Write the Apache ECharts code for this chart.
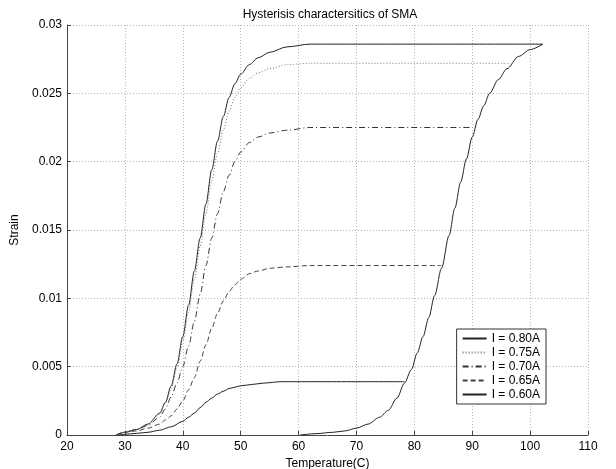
<!DOCTYPE html>
<html>
<head>
<meta charset="utf-8">
<script src="https://cdn.jsdelivr.net/npm/echarts@6/dist/echarts.min.js"></script>
<style>
  html, body { margin: 0; padding: 0; background: #fff; }
  #main { width: 616px; height: 469px; }
</style>
</head>
<body>
<div id="main"></div>
<script>
// legend names
var names = ['I = 0.80A', 'I = 0.75A', 'I = 0.70A', 'I = 0.65A', 'I = 0.60A'];

// heating branch + plateau, [temperature, strain]
var i80 = [[28.5, 0], [30, 0.0002], [32, 0.0004], [34, 0.0008], [36, 0.0016], [37, 0.0024], [38, 0.0036],
    [39, 0.0052], [40, 0.0072], [41, 0.0095], [42, 0.012], [43, 0.0144], [44, 0.0169], [45, 0.0194],
    [46, 0.0215], [47, 0.0233], [48, 0.0247], [49, 0.0257], [50, 0.0264], [51.5, 0.0271], [53, 0.0276],
    [55, 0.028], [58, 0.0284], [62, 0.0286], [102.2, 0.0286]];
var i75 = [[28.5, 0], [30, 0.0002], [32, 0.0004], [34, 0.0008], [36, 0.0015], [37, 0.0023], [38, 0.0034],
    [39, 0.0049], [40, 0.0068], [41, 0.009], [42, 0.0114], [43, 0.0138], [44, 0.0162], [45, 0.0186],
    [46, 0.0206], [47, 0.0223], [48, 0.0237], [49, 0.0247], [50, 0.0254], [51.5, 0.0261], [53, 0.0265],
    [55, 0.0268], [58, 0.0271], [62, 0.0272], [96.5, 0.0272]];
var i70 = [[28.5, 0], [30, 0.0002], [32, 0.0004], [34, 0.0007], [36, 0.0013], [37, 0.0019], [38, 0.0028],
    [39, 0.0038], [40, 0.005], [41, 0.0065], [42, 0.0083], [43, 0.0103], [44, 0.0124], [45, 0.0144],
    [46, 0.0162], [47, 0.0178], [48, 0.019], [49, 0.02], [50, 0.0207], [51.5, 0.0214], [53, 0.0218],
    [55, 0.0221], [58, 0.0223], [62, 0.0225], [90.1, 0.0225]];
var i65 = [[28.5, 0], [30, 0.0002], [32, 0.0003], [34, 0.0005], [36, 0.0008], [37, 0.0011], [38, 0.0014],
    [39, 0.0019], [40, 0.0025], [41, 0.0033], [42, 0.0042], [43, 0.0054], [44, 0.0066], [45, 0.0078],
    [46, 0.0089], [47, 0.0098], [48, 0.0105], [49, 0.011], [50, 0.0114], [51.5, 0.0118], [53, 0.012],
    [55, 0.0122], [58, 0.0123], [62, 0.0124], [84.7, 0.0124]];
var i60 = [[29, 0], [30, 0.00005], [32, 0.00012], [34, 0.0002], [36, 0.00035], [38, 0.0006], [40, 0.001],
    [41, 0.0013], [42, 0.0016], [43, 0.002], [44, 0.0024], [45, 0.0027], [46, 0.003], [47, 0.0032],
    [48, 0.0034], [49, 0.0035], [50, 0.0036], [52, 0.0037], [54, 0.0038], [57, 0.0039], [78.3, 0.0039]];

// the other branch of the loop, shared by all currents (drawn with I = 0.80A)
var back = [[60.3, 0], [63, 0.0001], [66, 0.0002], [68, 0.0003], [70, 0.0005], [72, 0.0008], [74, 0.0013],
    [75.5, 0.0018], [77, 0.0027], [78.3, 0.0038], [79.5, 0.0048], [80.5, 0.006], [81.5, 0.0072],
    [82.5, 0.0086], [83.5, 0.0102], [84.7, 0.0122], [86, 0.0146], [87, 0.0166], [88, 0.0185],
    [89, 0.0202], [90, 0.0218], [91, 0.0231], [92, 0.0241], [93, 0.025], [94.5, 0.026], [96, 0.0268],
    [98, 0.0277], [100, 0.0282], [102.2, 0.0286]];

var curves = [i80, i75, i70, i65, i60, back];
var owner = [0, 1, 2, 3, 4, 0];
var dashes = ['solid', [1, 2], [6, 3, 1, 3], [5, 3], 'solid'];
var colors = ['#222', '#777', '#333', '#444', '#222'];

var font = 'Liberation Sans, Arial, sans-serif';
var chart = echarts.init(document.getElementById('main'));

var series = curves.map(function(d, i) {
    var k = owner[i];
    return {
        name: names[k],
        type: 'line',
        data: d,
        symbol: 'none',
        smooth: 0.3,
        smoothMonotone: 'x',
        animation: false,
        lineStyle: { color: colors[k], width: 1, type: dashes[k] },
        itemStyle: { color: colors[k] }
    };
});

var gridLine = { show: true, lineStyle: { color: '#b5b5b5', width: 1, type: [1, 2] } };

chart.setOption({
    backgroundColor: '#fff',
    animation: false,
    title: {
        text: 'Hysterisis charactersitics of SMA',
        left: 325,
        top: 4,
        textAlign: 'center',
        textStyle: { fontFamily: font, fontSize: 12, fontWeight: 'normal', color: '#000' }
    },
    grid: { left: 67, right: 28, top: 25, bottom: 34, outerBoundsMode: 'none' },
    legend: {
        data: names,
        orient: 'vertical',
        right: 70,
        top: 329,
        itemWidth: 24,
        itemHeight: 10,
        itemGap: 1,
        padding: [3, 6, 3, 5],
        borderColor: '#333',
        borderWidth: 1,
        borderRadius: 0,
        backgroundColor: '#fff',
        itemStyle: { color: 'rgba(0,0,0,0)', borderColor: 'rgba(0,0,0,0)', borderWidth: 0 },
        textStyle: { fontFamily: font, fontSize: 12, lineHeight: 13, color: '#000' }
    },
    xAxis: {
        type: 'value',
        min: 20,
        max: 110,
        interval: 10,
        name: 'Temperature(C)',
        nameLocation: 'middle',
        nameGap: 20,
        nameTextStyle: { fontFamily: font, fontSize: 12, color: '#000' },
        axisLine: { lineStyle: { color: '#444' } },
        axisTick: { inside: true, length: 4, lineStyle: { color: '#444' } },
        axisLabel: { fontFamily: font, fontSize: 12, color: '#000', margin: 6 },
        splitLine: gridLine
    },
    yAxis: {
        type: 'value',
        min: 0,
        max: 0.03,
        interval: 0.005,
        name: 'Strain',
        nameLocation: 'middle',
        nameGap: 40,
        nameTextStyle: { fontFamily: font, fontSize: 12, color: '#000' },
        axisLine: { show: true, lineStyle: { color: '#444' } },
        axisTick: { show: true, inside: true, length: 4, lineStyle: { color: '#444' } },
        axisLabel: { fontFamily: font, fontSize: 12, color: '#000', margin: 5 },
        splitLine: gridLine
    },
    series: series
});
</script>
</body>
</html>
